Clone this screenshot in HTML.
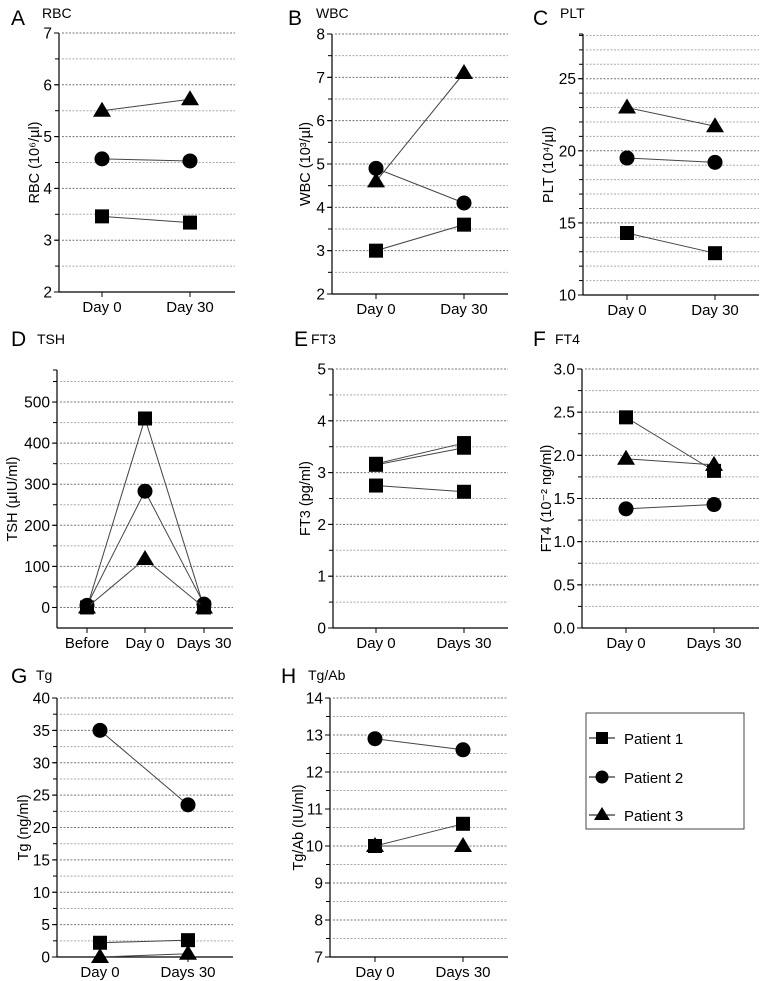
<!DOCTYPE html>
<html><head><meta charset="utf-8"><style>
body{margin:0;background:#fff;width:765px;height:981px;overflow:hidden}
svg{display:block;font-family:"Liberation Sans",Arial,sans-serif}
</style></head><body>
<svg id="fig" width="765" height="981" viewBox="0 0 765 981" xmlns="http://www.w3.org/2000/svg">
<g id="legend">
<rect x="586" y="713" width="158" height="116" fill="none" stroke="#444" stroke-width="1"/>
<g><line x1="589" y1="738" x2="615" y2="738" stroke="#000"/><rect x="596" y="732" width="12" height="12" fill="#000"/><text x="624" y="744" font-size="15">Patient 1</text></g>
<g><line x1="589" y1="777" x2="615" y2="777" stroke="#000"/><circle cx="602" cy="777" r="6.5" fill="#000"/><text x="624" y="783" font-size="15">Patient 2</text></g>
<g><line x1="589" y1="815" x2="615" y2="815" stroke="#000"/><path d="M602 807 L610 820 L594 820 Z" fill="#000"/><text x="624" y="821" font-size="15">Patient 3</text></g>
</g>
</svg>
<script>
// Data arrays
const rbcCategories=["Day 0","Day 30"];
const rbcP1=[3.46,3.34];const rbcP2=[4.57,4.53];const rbcP3=[5.5,5.72];
const rbcTicks=[2,3,4,5,6,7];
const wbcCategories=["Day 0","Day 30"];
const wbcP1=[3.0,3.6];const wbcP2=[4.9,4.1];const wbcP3=[4.6,7.1];
const wbcTicks=[2,3,4,5,6,7,8];
const pltCategories=["Day 0","Day 30"];
const pltP1=[14.3,12.9];const pltP2=[19.5,19.2];const pltP3=[23.0,21.7];
const pltTicks=[10,15,20,25];
const tshCategories=["Before","Day 0","Days 30"];
const tshP1=[0,460,0];const tshP2=[5,283,8];const tshP3=[0,118,0];
const tshTicks=[0,100,200,300,400,500];
const ft3Categories=["Day 0","Days 30"];
const ft3P1=[3.17,3.57];const ft3P2=[2.75,2.63];const ft3P3=[3.15,3.48];
const ft3Ticks=[0,1,2,3,4,5];
const ft4Categories=["Day 0","Days 30"];
const ft4P1=[2.44,1.82];const ft4P2=[1.38,1.43];const ft4P3=[1.96,1.89];
const ft4Ticks=["0.0","0.5","1.0","1.5","2.0","2.5","3.0"];
const tgCategories=["Day 0","Days 30"];
const tgP1=[2.2,2.6];const tgP2=[35,23.5];const tgP3=[0,0.5];
const tgTicks=[0,5,10,15,20,25,30,35,40];
const tgabCategories=["Day 0","Days 30"];
const tgabP1=[10,10.6];const tgabP2=[12.9,12.6];const tgabP3=[10,10];
const tgabTicks=[7,8,9,10,11,12,13,14];

const NS="http://www.w3.org/2000/svg";
const svg=document.getElementById('fig');
function mk(tag,attrs,parent){const e=document.createElementNS(NS,tag);for(const k in attrs)e.setAttribute(k,attrs[k]);(parent||svg).appendChild(e);return e;}

const panels=[
 {id:'rbc',letter:'A',title:'RBC',lx:11,ly:25,tx:42,ty:18,ax:59,right:235,top:33,bot:292,ymin:2,ymax:7,grid:0.5,xs:[102,190],cats:rbcCategories,ticks:rbcTicks,s:[rbcP1,rbcP2,rbcP3],ytitle:'RBC (10\u2076/\u00b5l)',ytx:34,marks:['sq','ci','tr']},
 {id:'wbc',letter:'B',title:'WBC',lx:288,ly:25,tx:316,ty:18,ax:332,right:508,top:34,bot:294,ymin:2,ymax:8,grid:0.5,xs:[376,464],cats:wbcCategories,ticks:wbcTicks,s:[wbcP1,wbcP2,wbcP3],ytitle:'WBC (10\u00b3/\u00b5l)',ytx:305,marks:['sq','ci','tr']},
 {id:'plt',letter:'C',title:'PLT',lx:533,ly:25,tx:560,ty:18,ax:583,right:759,top:34,bot:295,ymin:10,ymax:28.1,grid:1,xs:[627,715],cats:pltCategories,ticks:pltTicks,s:[pltP1,pltP2,pltP3],ytitle:'PLT (10\u2074/\u00b5l)',ytx:548,marks:['sq','ci','tr']},
 {id:'tsh',letter:'D',title:'TSH',lx:11,ly:346,tx:37,ty:344,ax:57,right:233,top:370,bot:628,ymin:-50,ymax:578,grid:50,xs:[87,145,204],cats:tshCategories,ticks:tshTicks,s:[tshP1,tshP2,tshP3],ytitle:'TSH (\u00b5IU/ml)',ytx:12,marks:['sq','ci','tr']},
 {id:'ft3',letter:'E',title:'FT3',lx:294,ly:346,tx:311,ty:344,ax:333,right:508,top:369,bot:628,ymin:0,ymax:5,grid:0.5,xs:[376,464],cats:ft3Categories,ticks:ft3Ticks,s:[ft3P1,ft3P2,ft3P3],ytitle:'FT3 (pg/ml)',ytx:305,marks:['sq','sq','sq']},
 {id:'ft4',letter:'F',title:'FT4',lx:533,ly:346,tx:555,ty:344,ax:582,right:759,top:369,bot:628,ymin:0,ymax:3,grid:0.25,xs:[626,714],cats:ft4Categories,ticks:ft4Ticks,s:[ft4P1,ft4P2,ft4P3],ytitle:'FT4 (10\u207b\u00b2 ng/ml)',ytx:546,marks:['sq','ci','tr']},
 {id:'tg',letter:'G',title:'Tg',lx:11,ly:683,tx:36,ty:680,ax:57,right:233,top:698,bot:957,ymin:0,ymax:40,grid:2.5,xs:[100,188],cats:tgCategories,ticks:tgTicks,s:[tgP1,tgP2,tgP3],ytitle:'Tg (ng/ml)',ytx:23,marks:['sq','ci','tr']},
 {id:'tgab',letter:'H',title:'Tg/Ab',lx:281,ly:683,tx:308,ty:680,ax:330,right:508,top:698,bot:957,ymin:7,ymax:14,grid:0.5,xs:[375,463],cats:tgabCategories,ticks:tgabTicks,s:[tgabP1,tgabP2,tgabP3],ytitle:'Tg/Ab (IU/ml)',ytx:298,marks:['sq','ci','tr']}
];

panels.forEach(p=>{
 const g=mk('g',{});
 
 
 const y=v=>p.bot-(v-p.ymin)/(p.ymax-p.ymin)*(p.bot-p.top);
 const lt=mk('text',{x:p.lx,y:p.ly,'font-size':21},g);lt.textContent=p.letter;
 
 
 const tt=mk('text',{x:p.tx,y:p.ty,'font-size':14},g);tt.textContent=p.title;
 
 
 const n=Math.floor((p.ymax-p.ymin)/p.grid+1e-6);
 for(let i=1;i<=n;i++){const v=p.ymin+i*p.grid;const yy=y(v);if(yy<p.top-0.5)continue;
  const major=p.ticks.some(t=>Math.abs(+t-v)<1e-6);
  const gl=mk('line',{x1:p.ax+3,x2:p.right,y1:yy,y2:yy,stroke:major?'#777':'#aaa','stroke-width':1,'stroke-dasharray':'2,1.5'},g);
  
  
  mk('line',{x1:p.ax-4,x2:p.ax,y1:yy,y2:yy,stroke:'#000'},g);
 }
 const ya=mk('line',{x1:p.ax,x2:p.ax,y1:p.top,y2:p.bot,stroke:'#000','stroke-width':1.2},g);
 
 
 mk('line',{x1:p.ax-4,x2:p.ax,y1:p.top,y2:p.top,stroke:'#000'},g);
 const xa=mk('line',{x1:p.ax,x2:p.right,y1:p.bot,y2:p.bot,stroke:'#000','stroke-width':1.2},g);
 
 
 p.ticks.forEach(t=>{const yy=y(+t);mk('line',{x1:p.ax-5,x2:p.ax,y1:yy,y2:yy,stroke:'#000'},g);
  const tl=mk('text',{x:p.ax-7,y:yy+5.5,'font-size':15.5,'text-anchor':'end'},g);tl.textContent=t;
  
  
 });
 p.cats.forEach((c,i)=>{mk('line',{x1:p.xs[i],x2:p.xs[i],y1:p.bot,y2:p.bot+5,stroke:'#000'},g);
  const cl=mk('text',{x:p.xs[i],y:p.bot+20,'font-size':15,'text-anchor':'middle'},g);cl.textContent=c;
  
  
 });
 const cy=(p.top+p.bot)/2;
 const yt=mk('text',{x:p.ytx,y:cy,'font-size':14.5,'text-anchor':'middle',transform:`rotate(-90 ${p.ytx} ${cy})`,dy:'5'},g);yt.textContent=p.ytitle;
 
 
 p.s.forEach((arr,si)=>{
  const pts=arr.map((v,i)=>[p.xs[i],y(v)]);
  const ln=mk('polyline',{points:pts.map(q=>q.join(',')).join(' '),fill:'none',stroke:'#444','stroke-width':1},g);
  
  
  pts.forEach(([px,py])=>{let m;const k=p.marks[si];
   if(k==='sq')m=mk('rect',{x:px-7,y:py-7,width:14,height:14,fill:'#000'},g);
   else if(k==='ci')m=mk('circle',{cx:px,cy:py,r:7.5,fill:'#000'},g);
   else m=mk('path',{d:`M${px} ${py-9} L${px+9} ${py+6} L${px-9} ${py+6} Z`,fill:'#000'},g);
   
   
  });
 });
});
</script>
</body></html>
